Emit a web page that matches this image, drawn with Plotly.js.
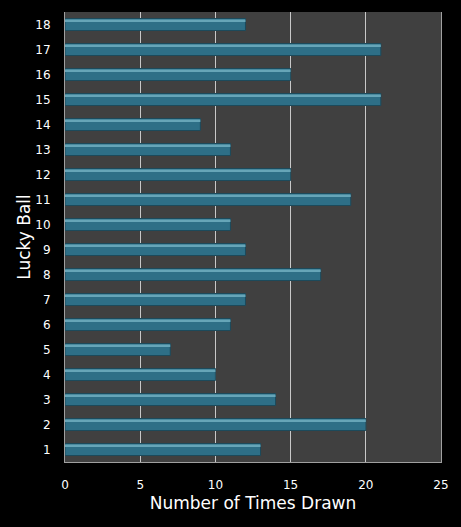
<!DOCTYPE html>
<html>
<head>
<meta charset="utf-8">
<script src="https://cdn.plot.ly/plotly-3.0.1.min.js"></script>
<style>
  html, body { margin: 0; padding: 0; background: #000; }
  #chart { width: 461px; height: 527px; }
</style>
</head>
<body>
<div id="chart"></div>
<script>
// bolas e quantas vezes cada uma saiu
var balls = ['1','2','3','4','5','6','7','8','9','10','11','12','13','14','15','16','17','18'];
var timesDrawn = [13, 20, 14, 10, 7, 11, 12, 17, 12, 11, 19, 15, 11, 9, 21, 15, 21, 12];
var xTicks = [0, 5, 10, 15, 20, 25];

// barra base
var base = {
  type: 'bar',
  orientation: 'h',
  y: balls,
  x: timesDrawn,
  width: 0.48,
  marker: { color: '#2e6f87', line: { color: '#1c4a5b', width: 1 } },
  hoverinfo: 'x+y'
};

// faixa clara em cima, pra dar o efeito 3d
var shine = {
  type: 'bar',
  orientation: 'h',
  y: balls,
  x: timesDrawn,
  width: 0.1,
  offset: 0.1,
  marker: { color: '#66a5b8', line: { width: 0 } },
  hoverinfo: 'skip'
};

var layout = {
  width: 461,
  height: 527,
  margin: { l: 65, r: 20, t: 12, b: 65 },
  paper_bgcolor: '#000000',
  plot_bgcolor: '#404040',
  barmode: 'overlay',
  showlegend: false,
  font: { family: 'DejaVu Sans, Verdana, sans-serif', color: '#ffffff', size: 12 },
  xaxis: {
    range: [0, 25],
    tickvals: xTicks,
    ticktext: xTicks.map(String),
    showgrid: true,
    gridcolor: '#c8c8c8',
    gridwidth: 1,
    zeroline: false,
    showline: true,
    linecolor: '#a0a0a0',
    linewidth: 1,
    ticks: '',
    ticklabelstandoff: 12,
    tickfont: { size: 12, color: '#ffffff' },
    title: { text: 'Number of Times Drawn', font: { size: 17, color: '#ffffff' }, standoff: 5 },
    fixedrange: true
  },
  yaxis: {
    type: 'category',
    categoryorder: 'array',
    categoryarray: balls,
    showgrid: false,
    zeroline: false,
    showline: true,
    mirror: true,
    linecolor: '#a0a0a0',
    linewidth: 1,
    ticks: '',
    ticklabelstandoff: 11,
    tickfont: { size: 12, color: '#ffffff' },
    title: { text: 'Lucky Ball', font: { size: 17, color: '#ffffff' }, standoff: 0 },
    fixedrange: true
  }
};

Plotly.newPlot('chart', [base, shine], layout, { displayModeBar: false, staticPlot: true });
</script>
</body>
</html>
